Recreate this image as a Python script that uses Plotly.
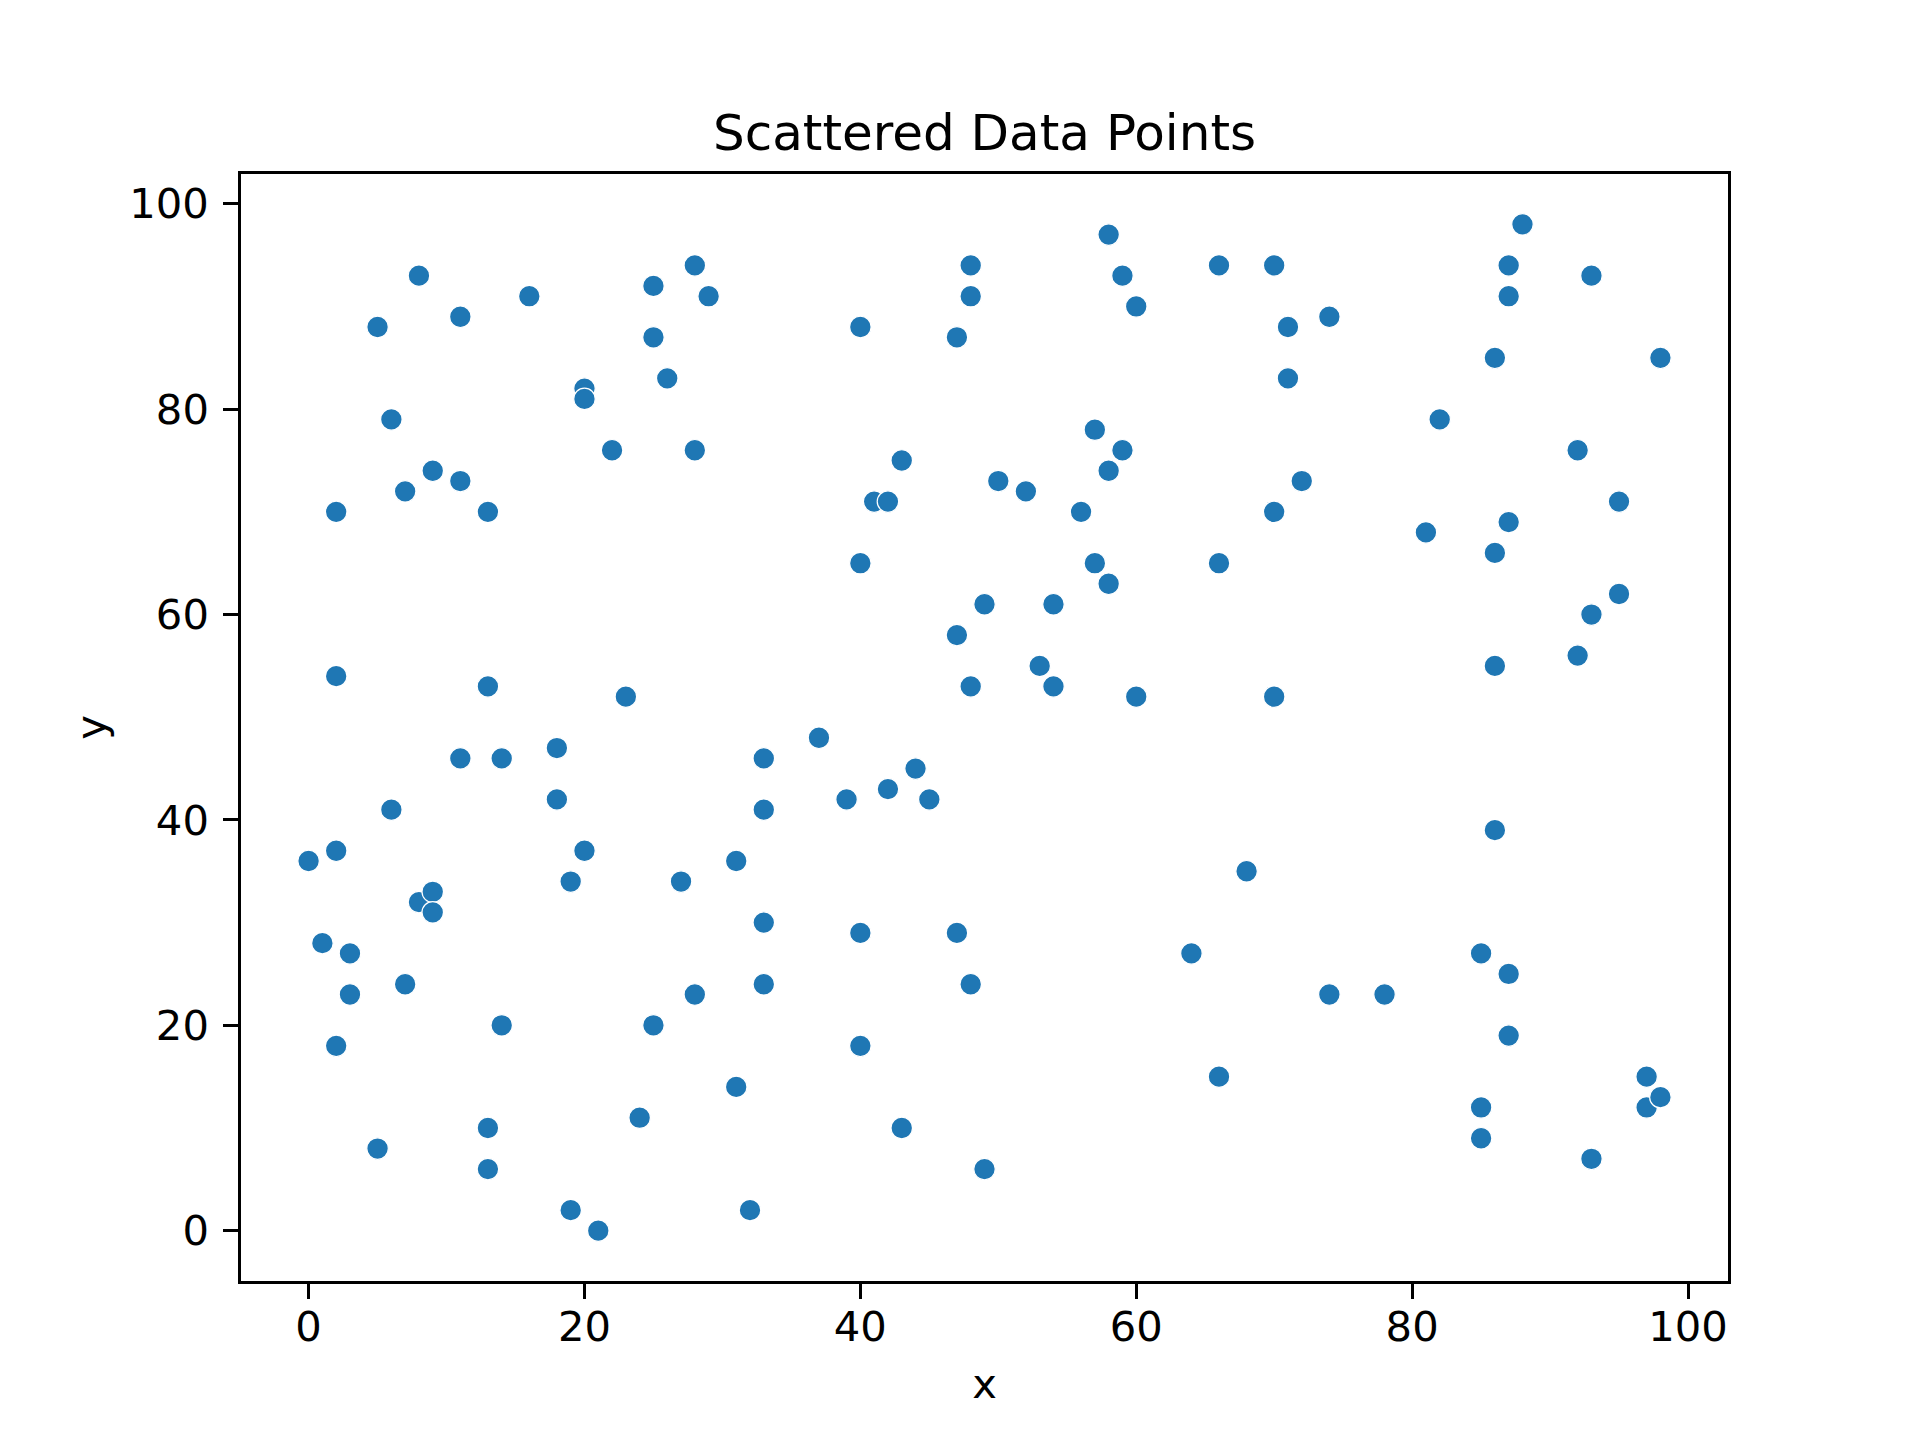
import plotly.graph_objects as go

x_vals = [0, 1, 2, 2, 2, 2, 3, 3, 5, 5, 6, 6, 7, 7, 8, 8, 9, 9, 9, 11, 11, 11,
          13, 13, 13, 13, 14, 14, 16, 18, 18, 19, 19, 20, 20, 20, 21, 22, 23, 24,
          25, 25, 25, 26, 27, 28, 28, 28, 29, 31, 31, 32, 33, 33, 33, 33, 37, 39,
          40, 40, 40, 40, 41, 42, 42, 43, 43, 44, 45, 47, 47, 47, 48, 48, 48, 48,
          49, 49, 50, 52, 53, 54, 54, 56, 57, 57, 58, 58, 58, 59, 59, 60, 60, 64,
          66, 66, 66, 68, 70, 70, 70, 71, 71, 72, 74, 74, 78, 81, 82, 85, 85, 85,
          86, 86, 86, 86, 87, 87, 87, 87, 87, 88, 92, 92, 93, 93, 93, 95, 95, 97,
          97, 98, 98]
y_vals = [36, 28, 70, 54, 37, 18, 27, 23, 88, 8, 79, 41, 72, 24, 93, 32, 74, 33, 31, 89, 73, 46,
          70, 53, 10, 6, 46, 20, 91, 47, 42, 34, 2, 82, 81, 37, 0, 76, 52, 11,
          92, 87, 20, 83, 34, 94, 76, 23, 91, 36, 14, 2, 46, 41, 30, 24, 48, 42,
          88, 65, 29, 18, 71, 71, 43, 75, 10, 45, 42, 87, 58, 29, 94, 91, 53, 24,
          61, 6, 73, 72, 55, 61, 53, 70, 78, 65, 97, 74, 63, 93, 76, 90, 52, 27,
          94, 65, 15, 35, 94, 70, 52, 88, 83, 73, 89, 23, 23, 68, 79, 27, 12, 9,
          85, 66, 55, 39, 94, 91, 69, 25, 19, 98, 76, 56, 93, 60, 7, 71, 62, 15,
          12, 85, 13]

title_text = "Scattered Data Points"
x_label = "x"
y_label = "y"
tick_vals = [0, 20, 40, 60, 80, 100]

FONT = "DejaVu Sans"

fig = go.Figure()
fig.add_trace(go.Scatter(
    x=x_vals, y=y_vals, mode="markers",
    marker=dict(color="#1f77b4", size=21.5, line=dict(color="white", width=1.2)),
    showlegend=False,
))

axis_common = dict(
    showgrid=False, zeroline=False, showline=True, mirror=True,
    linecolor="black", linewidth=3.3,
    ticks="outside", ticklen=14.6, tickwidth=3.3, tickcolor="black",
    tickfont=dict(family=FONT, size=41.7, color="black"),
    tickvals=tick_vals,
)

# page body adds an 8px offset; compensate in margins
OFF = 8
fig.update_layout(
    width=1920, height=1440,
    paper_bgcolor="white", plot_bgcolor="white",
    margin=dict(l=241 - OFF, r=192 + OFF, t=174 - OFF, b=159 + OFF, autoexpand=False),
    font=dict(family=FONT, color="black"),
    title=dict(text=title_text, x=(241 - OFF + 1728 - OFF) / 2 / 1920, xanchor="center",
               y=1 - (131 - OFF + 1) / 1440, yanchor="middle", yref="container",
               font=dict(family=FONT, size=50, color="black")),
    xaxis=dict(range=[-4.9, 102.9],
               title=dict(text=x_label, font=dict(family=FONT, size=41.7, color="black"), standoff=20),
               ticklabelstandoff=-8, **axis_common),
    yaxis=dict(range=[-4.9, 102.9],
               title=dict(text=y_label, font=dict(family=FONT, size=41.7, color="black"), standoff=11),
               ticklabelstandoff=6, **axis_common),
)

fig.write_html("out.html")
